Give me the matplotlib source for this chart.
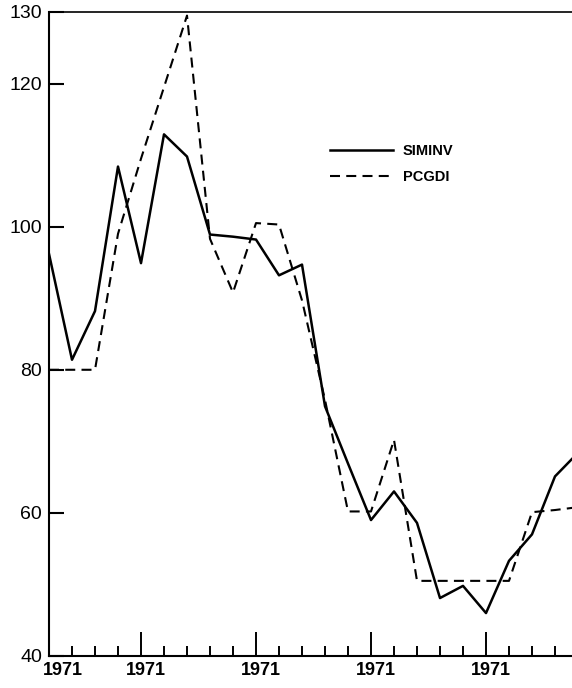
import matplotlib
matplotlib.use("Agg")
import matplotlib.pyplot as plt
import matplotlib.transforms as mtransforms

# quarter index along the x axis
quarters = list(range(24))

siminv = [96.2, 81.4, 88.2, 108.4, 94.9, 112.9, 109.8, 98.9, 98.6, 98.2, 93.2, 94.7,
          74.9, 66.9, 59.0, 63.0, 58.6, 48.1, 49.8, 46.0, 53.3, 57.0, 65.1, 68.4]
pcgdi = [80.0, 80.0, 80.0, 99.0, 109.5, 119.5, 129.5, 98.3, 90.8, 100.5, 100.3, 89.7,
         75.8, 60.2, 60.2, 70.2, 50.5, 50.5, 50.5, 50.5, 50.5, 60.1, 60.4, 60.8]

y_ticks = [40, 60, 80, 100, 120, 130]
major_x = [4, 9, 14, 19]
minor_x = [1, 2, 3, 5, 6, 7, 8, 10, 11, 12, 13, 15, 16, 17, 18, 20, 21, 22]
year_labels = ["1971", "1971", "1971", "1971", "1971"]
label_x = [0.6, 4.2, 9.2, 14.2, 19.2]

plt.rcParams['font.family'] = ['Liberation Sans', 'DejaVu Sans']

fig = plt.figure(figsize=(5.72, 6.88), dpi=100)
ax = fig.add_axes([49/572, 32/688, 1 - 49/572, (656 - 12)/688])

ax.plot(quarters, siminv, color='black', lw=1.8, label='SIMINV')
ax.plot(quarters, pcgdi, color='black', lw=1.5, linestyle=(0, (4.8, 3.0)), label='PCGDI')

ax.set_xlim(0, (572 - 49) / 23.0)
ax.set_ylim(40, 130)

ax.spines['right'].set_visible(False)
for s in ['left', 'bottom']:
    ax.spines[s].set_linewidth(1.5)
ax.spines['top'].set_linewidth(1.2)

ax.set_yticks(y_ticks)
ax.set_yticklabels([str(v) for v in y_ticks], fontsize=14)
ax.tick_params(axis='y', direction='in', length=11, width=1.5, pad=5)

ax.set_xticks(major_x)
ax.set_xticks(minor_x, minor=True)
ax.set_xticklabels([])
ax.tick_params(axis='x', which='major', direction='in', length=17, width=1.4)
ax.tick_params(axis='x', which='minor', direction='in', length=7.5, width=1.4)

trans = mtransforms.blended_transform_factory(ax.transData, ax.transAxes)
offset = mtransforms.ScaledTranslation(0, -4/72, fig.dpi_scale_trans)
for x, lab in zip(label_x, year_labels):
    ax.text(x, 0, lab, transform=trans + offset, ha='center', va='top', fontsize=13,
            fontweight='bold', clip_on=False)

leg = ax.legend(loc='upper left', bbox_to_anchor=((330 - 49) / 523, 1 - (144 - 12) / 644),
                frameon=False, prop={'size': 10.5, 'weight': 'bold'}, handlelength=4.3,
                handletextpad=0.7, labelspacing=0.85, borderaxespad=0, borderpad=0)

fig.savefig("out.png", dpi=100)
